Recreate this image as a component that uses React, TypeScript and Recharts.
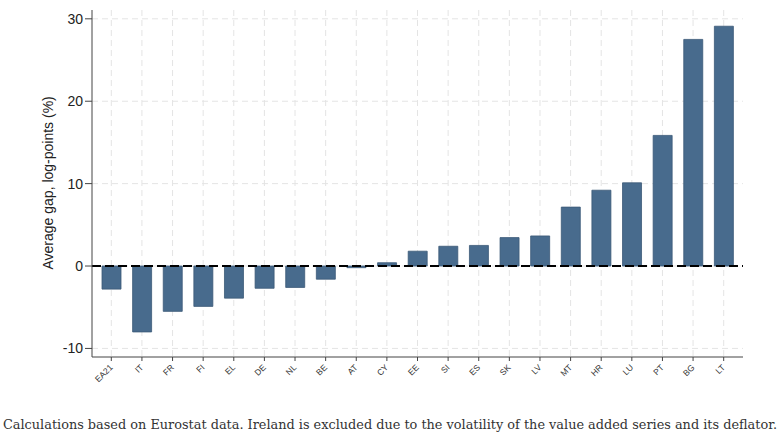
import { BarChart, Bar, XAxis, YAxis, CartesianGrid, ReferenceLine } from 'recharts';

const countries = ['EA21', 'IT', 'FR', 'FI', 'EL', 'DE', 'NL', 'BE', 'AT', 'CY', 'EE', 'SI', 'ES', 'SK', 'LV', 'MT', 'HR', 'LU', 'PT', 'BG', 'LT'];
const gaps = [-2.8, -8.0, -5.5, -4.9, -3.9, -2.7, -2.6, -1.6, -0.2, 0.4, 1.8, 2.4, 2.5, 3.45, 3.65, 7.15, 9.2, 10.1, 15.85, 27.5, 29.1];
const yTicks = [-10, 0, 10, 20, 30];

const caption = 'Calculations based on Eurostat data. Ireland is excluded due to the volatility of the value added series and its deflator.';

const data = countries.map((c, i) => ({ country: c, gap: gaps[i] }));

const XTick = ({ x, y, payload }: any) => (
  <g transform={`translate(${x + 2},${y + 5})`}>
    <text textAnchor="end" transform="rotate(-45)" fontSize={8.5} fill="#333" fontFamily="Liberation Sans, Arial, sans-serif">
      {payload.value}
    </text>
  </g>
);

export default function App() {
  return (
    <div style={{ position: 'absolute', left: 0, top: 0, width: 782, height: 436, background: '#fff' }}>
      <BarChart
        width={782}
        height={400}
        data={data}
        margin={{ top: 10, right: 39, left: 32, bottom: 13 }}
        barCategoryGap={0}
      >
        <CartesianGrid stroke="#e4e4e4" strokeDasharray="6 4" horizontalValues={yTicks} verticalValues={countries} />
        <XAxis
          dataKey="country"
          interval={0}
          height={30}
          padding={{ left: 4, right: 4 }}
          stroke="#444"
          tickSize={4}
          tick={<XTick />}
        />
        <YAxis
          domain={[-11.04, 31.07]}
          ticks={yTicks}
          allowDataOverflow
          width={60}
          stroke="#444"
          tickSize={7}
          tick={{ fill: '#222', fontSize: 14, fontFamily: 'Liberation Sans, Arial, sans-serif' }}
          label={{
            value: 'Average gap, log-points (%)',
            angle: -90,
            position: 'insideLeft',
            dx: 11,
            dy: 86,
            style: { fill: '#222', fontSize: 14, fontFamily: 'Liberation Sans, Arial, sans-serif' },
          }}
        />
        <Bar dataKey="gap" barSize={19} fill="#486b8d" stroke="#3b5977" strokeWidth={0.8} isAnimationActive={false} />
        <ReferenceLine y={0} stroke="#000" strokeWidth={2} strokeDasharray="9 4" />
      </BarChart>
      <svg width={782} height={36} style={{ position: 'absolute', left: 0, top: 400 }}>
        <text
          x={3}
          y={29}
          textLength={774}
          lengthAdjust="spacingAndGlyphs"
          fontSize={12.8}
          fill="#333"
          fontFamily="DejaVu Serif, serif"
        >
          {caption}
        </text>
      </svg>
    </div>
  );
}
